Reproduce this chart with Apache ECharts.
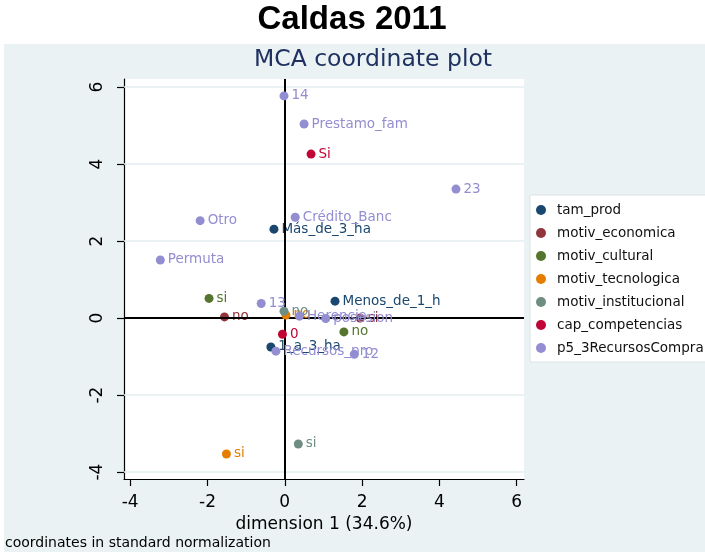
<!DOCTYPE html>
<html>
<head>
<meta charset="utf-8">
<script src="https://cdn.jsdelivr.net/npm/echarts@6/dist/echarts.min.js"></script>
<style>
  html, body { margin: 0; padding: 0; background: #fff; }
  #chart { width: 705px; height: 552px; }
</style>
</head>
<body>
<div id="chart"></div>
<script>
// MCA coordinates: [dim1, dim2, category]
var groupNames = ['tam_prod', 'motiv_economica', 'motiv_cultural', 'motiv_tecnologica',
                  'motiv_institucional', 'cap_competencias', 'p5_3RecursosCompra'];
var groupColors = ['#1a476f', '#90353b', '#55752f', '#e37e00', '#6e8e84', '#c10534', '#938dd2'];

var tamProd = [[-0.28, 2.31, 'Más_de_3_ha'], [1.30, 0.44, 'Menos_de_1_h'], [-0.36, -0.75, '1_a_3_ha']];
var motivEconomica = [[-1.56, 0.03, 'no'], [1.95, 0.00, 'si']];
var motivCultural = [[-1.96, 0.51, 'si'], [1.53, -0.36, 'no']];
var motivTecnologica = [[-1.51, -3.53, 'si'], [0.03, 0.08, 'no']];
var motivInstitucional = [[0.35, -3.27, 'si'], [-0.02, 0.18, 'no']];
var capCompetencias = [[0.68, 4.26, 'Si'], [-0.06, -0.42, '0']];
var recursosCompra = [[-0.02, 5.77, '14'], [0.50, 5.04, 'Prestamo_fam'], [4.43, 3.35, '23'],
                      [0.27, 2.62, 'Crédito_Banc'], [-2.19, 2.53, 'Otro'], [-3.22, 1.51, 'Permuta'],
                      [-0.61, 0.38, '13'], [0.38, 0.05, 'Herencia'], [1.06, -0.01, 'posesion'],
                      [-0.23, -0.86, 'Recursos_pro'], [1.80, -0.94, '12']];

var groupData = [tamProd, motivEconomica, motivCultural, motivTecnologica,
                 motivInstitucional, capCompetencias, recursosCompra];

var tickValues = [-4, -2, 0, 2, 4, 6];
var gridValues = [-4, -2, 2, 4, 6];

var chart = echarts.init(document.getElementById('chart'));
var font = 'DejaVu Sans';

var series = [];
// light horizontal grid lines
series.push({
  type: 'scatter', name: 'grid', data: [], z: 1, silent: true,
  markLine: {
    silent: true, symbol: 'none', animation: false,
    label: { show: false },
    lineStyle: { color: '#e4eef0', width: 1.5, type: 'solid' },
    data: gridValues.map(function (v) { return { yAxis: v }; })
  }
});
// zero lines
series.push({
  type: 'scatter', name: 'zero', data: [], z: 2, silent: true,
  markLine: {
    silent: true, symbol: 'none', animation: false,
    label: { show: false },
    lineStyle: { color: '#000', width: 2, type: 'solid' },
    data: [{ xAxis: 0 }, { yAxis: 0 }]
  }
});
for (var i = 0; i < groupNames.length; i++) {
  series.push({
    type: 'scatter',
    name: groupNames[i],
    z: 3 + i,
    symbol: 'circle',
    symbolSize: 9,
    itemStyle: { color: groupColors[i], opacity: 1 },
    label: {
      show: true, position: 'right', distance: 3,
      formatter: function (p) { return p.data[2]; },
      color: groupColors[i], fontFamily: font, fontSize: 13.5
    },
    data: groupData[i]
  });
}

chart.setOption({
  animation: false,
  backgroundColor: '#fff',
  graphic: [
    { type: 'rect', shape: { x: 4, y: 44, width: 705, height: 520 }, style: { fill: '#eaf2f3' }, z: -10 },
    { type: 'rect', shape: { x: 530, y: 195, width: 190, height: 167 }, style: { fill: '#fff', stroke: '#dbe3e5', lineWidth: 1 }, z: -5 },
    { type: 'text', x: 352, y: 3, style: { text: 'Caldas 2011', fontFamily: 'Liberation Sans', fontWeight: 'bold', fontSize: 33, fill: '#000', textAlign: 'center' } },
    { type: 'text', x: 373, y: 48, style: { text: 'MCA coordinate plot', fontFamily: font, fontSize: 23.5, fill: '#1e3160', textAlign: 'center' } },
    { type: 'text', x: 5, y: 536, style: { text: 'coordinates in standard normalization', fontFamily: font, fontSize: 14, fill: '#000' } }
  ],
  grid: {
    left: 124, right: 181, top: 79, bottom: 73,
    show: true, backgroundColor: '#fff', borderWidth: 0
  },
  legend: {
    data: groupNames,
    orient: 'vertical',
    left: 536, top: 203,
    icon: 'circle',
    itemWidth: 22, itemHeight: 10, itemGap: 9,
    padding: 0,
    textStyle: { fontFamily: font, fontSize: 13.5, color: '#111' }
  },
  xAxis: {
    type: 'value', min: -4.16, max: 6.19,
    name: 'dimension 1 (34.6%)', nameLocation: 'middle', nameGap: 34,
    nameTextStyle: { fontFamily: font, fontSize: 17, color: '#000' },
    axisLine: { show: true, onZero: false, lineStyle: { color: '#000', width: 1.2 } },
    axisTick: { show: true, length: 7, customValues: tickValues, lineStyle: { color: '#000', width: 1.2 } },
    axisLabel: { customValues: tickValues, fontFamily: font, fontSize: 17, color: '#000', margin: 15 },
    splitLine: { show: false }
  },
  yAxis: {
    type: 'value', min: -4.18, max: 6.21,
    axisLine: { show: true, onZero: false, lineStyle: { color: '#000', width: 1.2 } },
    axisTick: { show: true, length: 7, customValues: tickValues, lineStyle: { color: '#000', width: 1.2 } },
    axisLabel: { customValues: tickValues, rotate: 90, fontFamily: font, fontSize: 17, color: '#000', margin: 18 },
    splitLine: { show: false }
  },
  series: series
});
</script>
</body>
</html>
